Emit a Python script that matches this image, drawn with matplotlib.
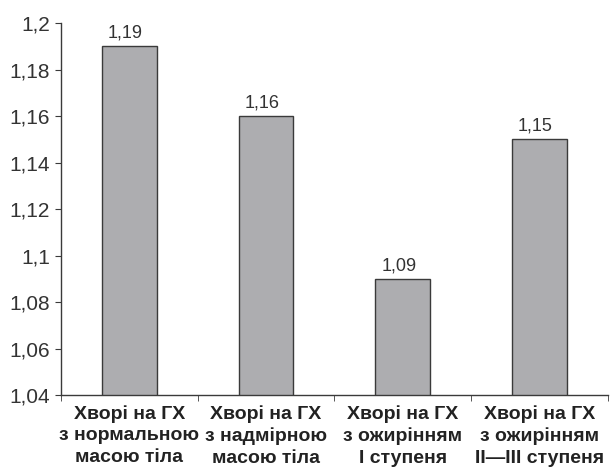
import matplotlib.pyplot as plt
import numpy as np
from matplotlib.ticker import FuncFormatter, MultipleLocator

plt.rcParams['font.family'] = ['Liberation Sans', 'DejaVu Sans']

groups = ['Хворі на ГХ\nз нормальною\nмасою тіла',
          'Хворі на ГХ\nз надмірною\nмасою тіла',
          'Хворі на ГХ\nз ожирінням\nI ступеня',
          'Хворі на ГХ\nз ожирінням\nII—III ступеня']
values = [1.19, 1.16, 1.09, 1.15]

_c_bar = '#adadb0'
_c_edge = '#3a3a3a'
_c_text = '#333333'


def _comma(v, pos):
    return ('%g' % round(v, 2)).replace('.', ',')


fig = plt.figure(figsize=(6.11, 4.72), dpi=100)
ax = fig.add_axes([0.0998, 0.163, 0.8952, 0.788])

x = np.arange(len(values))
ax.bar(x, values, width=0.4, color=_c_bar, edgecolor=_c_edge, linewidth=1.0)
for a, b in zip(x, values):
    ax.text(a - 0.03, b + 0.002, _comma(b, None), ha='center', va='bottom',
            fontsize=13, color=_c_text)

ax.set_xlim(-0.5, len(values) - 0.5)
ax.set_ylim(1.04, 1.2)
ax.yaxis.set_major_locator(MultipleLocator(0.02))
ax.yaxis.set_major_formatter(FuncFormatter(_comma))

ax.set_xticks(x)
ax.set_xticklabels(groups, fontsize=14, fontweight='bold', color='#222222',
                   linespacing=1.37)
ax.set_xticks(np.arange(len(values) + 1) - 0.5, minor=True)
ax.tick_params(axis='x', which='major', length=0, pad=7)
ax.tick_params(axis='x', which='minor', length=4, color=_c_edge, direction='out')
ax.tick_params(axis='y', length=4, color=_c_edge, labelsize=15,
               labelcolor=_c_text, pad=4)

for s in ['top', 'right']:
    ax.spines[s].set_visible(False)
for s in ['left', 'bottom']:
    ax.spines[s].set_color(_c_edge)
    ax.spines[s].set_linewidth(1.0)

fig.savefig('out.png', dpi=100)
